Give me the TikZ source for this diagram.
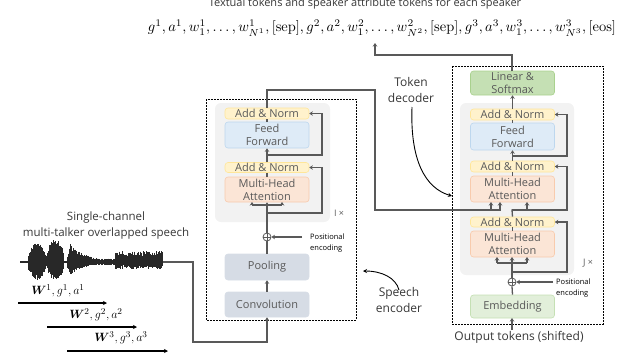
\documentclass[tikz,border=0pt]{standalone}
\usepackage[no-math]{fontspec}
\setmainfont{Open Sans}
\usepackage{amsmath,bm,graphicx}
\usetikzlibrary{arrows.meta}
\definecolor{lgray}{RGB}{89,89,89}
\definecolor{tgray}{RGB}{89,89,89}
\definecolor{dgray}{RGB}{55,55,55}
\definecolor{wgray}{RGB}{40,40,40}
\definecolor{anF}{RGB}{255,242,204}
\definecolor{anD}{RGB}{255,230,153}
\definecolor{ffF}{RGB}{222,235,247}
\definecolor{ffD}{RGB}{189,215,238}
\definecolor{mhF}{RGB}{251,229,214}
\definecolor{mhD}{RGB}{248,203,173}
\definecolor{cvF}{RGB}{214,220,229}
\definecolor{lsF}{RGB}{197,224,180}
\definecolor{lsD}{RGB}{169,209,142}
\definecolor{emF}{RGB}{226,239,218}
\definecolor{emD}{RGB}{197,224,180}
\definecolor{bgF}{RGB}{242,242,242}
\begin{document}
\begin{tikzpicture}[x=1pt,y=-1pt,
  ln/.style={draw=lgray, line width=1.3pt},
  arr/.style={ln, -{Stealth[length=3.5pt,width=4.5pt]}},
  warr/.style={draw=black, line width=1.2pt, -{Stealth[length=4pt,width=4pt]}},
  carr/.style={draw=black, line width=0.9pt, -{Stealth[length=4pt,width=4pt]}},
  blk/.style={rounded corners=3pt, line width=0.6pt, inner sep=0pt, text=tgray,
    font=\fontsize{11}{13}\selectfont, align=center, minimum width=84pt},
  an/.style={blk, fill=anF, draw=anD},
  ff/.style={blk, fill=ffF, draw=ffD},
  mh/.style={blk, fill=mhF, draw=mhD},
  cv/.style={blk, fill=cvF, draw=cvF},
  ls/.style={blk, fill=lsF, draw=lsD},
  em/.style={blk, fill=emF, draw=emD},
  bgbox/.style={fill=bgF, rounded corners=6pt},
  dbox/.style={draw=black, line width=0.8pt, dash pattern=on 2pt off 1pt},
  oplus/.style={circle, draw=lgray, fill=white, line width=0.8pt, inner sep=0pt, minimum size=8pt},
  pe/.style={font=\fontsize{7.5}{11}\selectfont, text=black, align=left, inner sep=0pt, anchor=west},
  lab/.style={font=\fontsize{12}{15.5}\selectfont, text=dgray, align=center, inner sep=0pt},
  wv/.style={draw=wgray, line width=0.8pt}]
\useasboundingbox (0,0) rectangle (617,360);

% ---------- top texts
\node[font=\fontsize{11}{13}\selectfont, text=dgray, inner sep=0pt] (title) at (365,4) {Textual tokens and speaker attribute tokens for each speaker};
\node[inner sep=0pt] (seq) at (382,28) {\resizebox{468pt}{!}{$g^1, a^1, w^1_1, \ldots, w^1_{N^1}, [\mathrm{sep}], g^2, a^2, w^2_1, \ldots, w^2_{N^2}, [\mathrm{sep}], g^3, a^3, w^3_1, \ldots, w^3_{N^3}, [\mathrm{eos}]$}};

% ---------- encoder
\fill[bgbox] (215,103) rectangle (330,222);
\draw[dbox] (206,99) rectangle (356,320);
\node[an, minimum height=11pt] (ean1) at (267,113.5) {Add \& Norm};
\node[ff, minimum height=26pt] (eff) at (267,135) {Feed\\Forward};
\node[an, minimum height=10pt] (ean2) at (267,167.5) {Add \& Norm};
\node[mh, minimum height=25pt] (emha) at (267,189.5) {Multi-Head\\Attention};
\node[cv, minimum height=26pt] (epool) at (267,267) {Pooling};
\node[cv, minimum height=25pt] (econv) at (267,304.5) {Convolution};
\node[oplus] (eplus) at (267,237) {};
\draw[lgray, line width=0.8pt] (eplus.north) -- (eplus.south) (eplus.west) -- (eplus.east);
\node[font=\fontsize{9}{10}\selectfont, text=tgray, inner sep=0pt] (eI) at (339,213) {I ×};
\node[pe] (epe) at (310,243.5) {Positional\\encoding};

\draw[arr] (econv.north) -- (epool.south);
\draw[ln] (epool.north) -- (eplus.south);
\draw[ln] (eplus.north) -- (267,205);
\draw[ln] (252,205) -- (282,205);
\draw[arr] (252,205) -- (252,202);
\draw[arr] (267,205) -- (emha.south);
\draw[arr] (282,205) -- (282,202);
\draw[arr] (267,213) -- (322,213) -- (322,167.5) -- (ean2.east);
\draw[ln] (emha.north) -- (ean2.south);
\draw[arr] (ean2.north) -- (eff.south);
\draw[arr] (267,155) -- (322,155) -- (322,113.5) -- (ean1.east);
\draw[ln] (eff.north) -- (ean1.south);
\draw[arr] (302,237) -- (eplus.east);

% ---------- decoder
\fill[bgbox] (460,103) rectangle (574,275);
\draw[dbox] (452,66) rectangle (603,324);
\node[ls, minimum height=24pt] (dlin) at (512.5,83) {Linear \&\\Softmax};
\node[an, minimum height=11pt] (dan1) at (512.5,114.5) {Add \& Norm};
\node[ff, minimum height=27pt] (dff) at (512.5,136.5) {Feed\\Forward};
\node[an, minimum height=11pt] (dan2) at (512.5,166.5) {Add \& Norm};
\node[mh, minimum height=26pt] (dmha2) at (512.5,189) {Multi-Head\\Attention};
\node[an, minimum height=10pt] (dan3) at (512.5,222) {Add \& Norm};
\node[mh, minimum height=26pt] (dmha1) at (512.5,244) {Multi-Head\\Attention};
\node[oplus] (dplus) at (512,282) {};
\draw[lgray, line width=0.8pt] (dplus.north) -- (dplus.south) (dplus.west) -- (dplus.east);
\node[em, minimum height=23pt] (demb) at (512.5,306.5) {Embedding};
\node[font=\fontsize{9}{10}\selectfont, text=tgray, inner sep=0pt] (dJ) at (588,263) {J ×};
\node[pe] (dpe) at (556,288) {Positional\\encoding};
\node[lab] (outtok) at (519,337) {Output tokens (shifted)};

\coordinate (din) at (512,330);
\draw[arr] (din) -- (512,318);
\draw[ln] (demb.north) -- (dplus.south);
\draw[ln] (dplus.north) -- (512,263);
\draw[ln] (497,263) -- (527,263);
\draw[arr] (497,263) -- (497,257);
\draw[arr] (512,263) -- (512,257);
\draw[arr] (527,263) -- (527,257);
\draw[arr] (512,272) -- (567,272) -- (567,222) -- (dan3.east);
\draw[ln] (dmha1.north) -- (dan3.south);
\draw[ln] (dan3.north) -- (512,210) -- (527,210);
\draw[arr] (527,210) -- (527,202);
\draw[arr] (512,210) -- (567,210) -- (567,166.5) -- (dan2.east);
\draw[ln] (dmha2.north) -- (dan2.south);
\draw[arr] (dan2.north) -- (dff.south);
\draw[arr] (512,156) -- (567,156) -- (567,114.5) -- (dan1.east);
\draw[ln] (dff.north) -- (dan1.south);
\draw[arr] (dan1.north) -- (dlin.south);
\draw[arr] (553,282) -- (dplus.east);

% ---------- encoder -> decoder, decoder -> tokens
\draw[arr] (ean1.north) -- (267,90) -- (375,90) -- (375,210) -- (500,210) -- (500,202);
\draw[arr] (491,210) -- (491,202);
\draw[arr] (512,71) -- (512,55) -- (375,55) -- (375,43);

% ---------- labels with curved arrows
\node[lab] (tokdec) at (411,90) {Token\\decoder};
\draw[carr] (412,107) .. controls (410,160) and (425,188) .. (452,196);
\node[lab] (spenc) at (399,300) {Speech\\encoder};
\draw[carr] (399,290) .. controls (396,278) and (382,271) .. (363,271);

% ---------- speech input
\node[lab, font=\fontsize{11.5}{16}\selectfont] (spin) at (106,226) {Single-channel\\multi-talker overlapped speech};
\draw[wgray, line width=1.6pt] (20,262) -- (164,262);
\pgfmathsetseed{7}
\foreach \x in {28,28.35,...,46}{
  \pgfmathsetmacro\a{19*sqrt(abs(sin((\x-27.5)/19*180)))*(0.65+0.35*rnd)}
  \pgfmathsetmacro\b{18*sqrt(abs(sin((\x-27.5)/19*180)))*(0.65+0.35*rnd)}
  \draw[wv] (\x,262-\a) -- (\x,262+\b);}
\foreach \x in {46.5,46.85,...,64}{
  \pgfmathsetmacro\a{23*sqrt(abs(sin((\x-46)/18.5*180)))*(0.65+0.35*rnd)}
  \pgfmathsetmacro\b{18*sqrt(abs(sin((\x-46)/18.5*180)))*(0.65+0.35*rnd)}
  \draw[wv] (\x,262-\a) -- (\x,262+\b);}
\foreach \x in {67,67.5,...,98}{
  \pgfmathsetmacro\a{17*min(1,(\x-66)/4)*exp(-(\x-71)/17)*(0.6+0.4*rnd)}
  \pgfmathsetmacro\b{12*min(1,(\x-66)/4)*exp(-(\x-71)/17)*(0.6+0.4*rnd)}
  \draw[wv] (\x,262-\a) -- (\x,262+\b);}
\foreach \x in {98.5,99.1,...,115}{
  \pgfmathsetmacro\a{3.5*(0.5+0.5*rnd)}
  \draw[wv] (\x,262-\a) -- (\x,262+\a);}
\foreach \x in {115.5,115.9,...,163}{
  \pgfmathsetmacro\a{11*(0.4+0.6*rnd)}
  \pgfmathsetmacro\b{7*(0.45+0.55*rnd)}
  \draw[wv] (\x,262-\a) -- (\x,262+\b);}
\coordinate (wend) at (163,262);
\draw[arr] (wend) -- (193,262) -- (193,342) -- (267,342) -- (econv.south);

\node[font=\fontsize{12.5}{14}\selectfont, inner sep=0pt] (w1) at (58,291) {$\bm{W}^1, g^1, a^1$};
\node[font=\fontsize{12.5}{14}\selectfont, inner sep=0pt] (w2) at (96,315) {$\bm{W}^2, g^2, a^2$};
\node[font=\fontsize{12.5}{14}\selectfont, inner sep=0pt] (w3) at (121,338) {$\bm{W}^3, g^3, a^3$};
\coordinate (a1s) at (18,303); \coordinate (a1e) at (107,303);
\coordinate (a2s) at (47,327); \coordinate (a2e) at (137,327);
\coordinate (a3s) at (67,351); \coordinate (a3e) at (168,351);
\draw[warr] (a1s) -- (a1e);
\draw[warr] (a2s) -- (a2e);
\draw[warr] (a3s) -- (a3e);
\end{tikzpicture}
\end{document}
